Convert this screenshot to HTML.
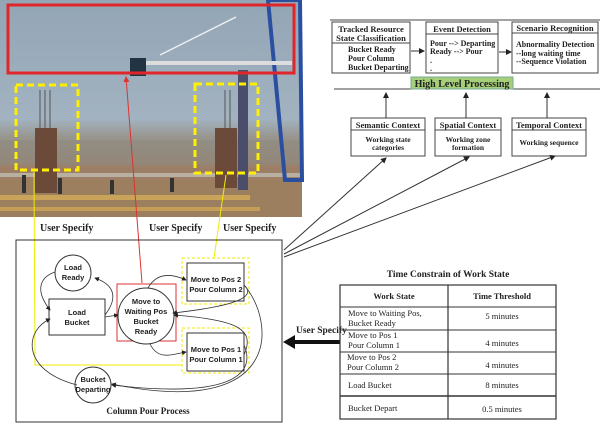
<!DOCTYPE html>
<html><head><meta charset="utf-8"><style>
body{margin:0;background:#fff;width:600px;height:424px;overflow:hidden}
svg text{font-family:"Liberation Serif",serif;font-weight:bold;fill:#222}
svg .s text{font-family:"Liberation Sans",sans-serif}
svg text.n{font-weight:normal}
</style></head><body>
<svg width="600" height="424" viewBox="0 0 600 424" xmlns="http://www.w3.org/2000/svg">
<defs>
<linearGradient id="sky" x1="0" y1="0" x2="0" y2="1">
<stop offset="0" stop-color="#93a6b6"/><stop offset="0.55" stop-color="#a2b2c0"/><stop offset="0.63" stop-color="#98968f"/><stop offset="0.78" stop-color="#9c7e66"/><stop offset="1" stop-color="#a58360"/></linearGradient>
<marker id="a" markerWidth="6" markerHeight="6" refX="5" refY="3" orient="auto"><path d="M0,0 L6,3 L0,6 Z" fill="#222"/></marker>
<marker id="ar" markerWidth="6" markerHeight="6" refX="5" refY="3" orient="auto"><path d="M0,0 L6,3 L0,6 Z" fill="#d33"/></marker>
</defs>
<rect x="0" y="0" width="302" height="217" fill="url(#sky)"/>
<rect x="0" y="140" width="302" height="25" fill="#8e8a80" opacity="0.6"/>
<rect x="0" y="180" width="302" height="37" fill="#9b7f5e"/>
<rect x="0" y="195" width="250" height="5" fill="#c9a35a"/>
<rect x="0" y="207" width="260" height="4" fill="#c59e55"/>
<rect x="0" y="173" width="302" height="4" fill="#b8b0a0"/>
<rect x="35" y="128" width="22" height="65" fill="#6b4a3a"/>
<rect x="215" y="128" width="22" height="60" fill="#6b4a3a"/>
<g stroke="#555" stroke-width="1"><line x1="40" y1="90" x2="40" y2="128"/><line x1="45" y1="90" x2="45" y2="128"/><line x1="50" y1="90" x2="50" y2="128"/><line x1="225" y1="90" x2="225" y2="128"/><line x1="230" y1="90" x2="230" y2="128"/></g>
<rect x="238" y="70" width="10" height="120" fill="#4a4e6a"/>
<path d="M268 0 L300 0 L302 180 L285 180 Z" fill="none" stroke="#2b4fa0" stroke-width="4"/>
<line x1="130" y1="63" x2="292" y2="63" stroke="#ddd" stroke-width="4"/>
<line x1="160" y1="55" x2="236" y2="17" stroke="#eee" stroke-width="1.5"/>
<rect x="130" y="58" width="16" height="18" fill="#234"/>
<g fill="#333"><rect x="22" y="175" width="4" height="18"/><rect x="58" y="178" width="4" height="16"/><rect x="170" y="178" width="4" height="14"/><rect x="110" y="180" width="4" height="14"/></g>
<rect x="8" y="5" width="286" height="68" fill="none" stroke="#e0262a" stroke-width="3"/>
<rect x="16" y="85" width="62" height="85" fill="none" stroke="#ffef00" stroke-width="3" stroke-dasharray="7,4"/>
<rect x="195" y="84" width="63" height="89" fill="none" stroke="#ffef00" stroke-width="3" stroke-dasharray="7,4"/>
<line x1="142" y1="283" x2="126" y2="77" stroke="#d33" stroke-width="1" marker-end="url(#ar)"/>
<polyline points="34,172 35,365 182,365" fill="none" stroke="#ee0" stroke-width="1"/>
<line x1="214" y1="258" x2="226" y2="175" stroke="#ee0" stroke-width="1"/>
<text x="40" y="231" font-size="10">User Specify</text>
<text x="149" y="231" font-size="10">User Specify</text>
<text x="223" y="231" font-size="10">User Specify</text>
<rect x="16" y="240" width="266" height="182" fill="none" stroke="#333" stroke-width="1"/>
<rect x="117" y="284" width="59" height="57" fill="none" stroke="#d33" stroke-width="1"/>
<rect x="182" y="258" width="67" height="46" fill="none" stroke="#ee0" stroke-dasharray="3,2"/>
<rect x="182" y="328" width="67" height="45" fill="none" stroke="#ee0" stroke-dasharray="3,2"/>
<g fill="#fff" stroke="#333">
<circle cx="73" cy="273" r="18"/>
<rect x="49" y="299" width="56" height="36"/>
<circle cx="146" cy="316" r="28"/>
<rect x="187" y="263" width="57" height="38"/>
<rect x="187" y="333" width="57" height="38"/>
<circle cx="93" cy="385" r="18"/>
</g>
<g fill="none" stroke="#333" stroke-width="0.8">
<path d="M55 272 C38 278 36 292 50 310" marker-end="url(#a)"/>
<path d="M105 315 C118 298 115 285 95 278" marker-end="url(#a)"/>
<path d="M105 317 L118 315" marker-end="url(#a)"/>
<path d="M148 288 C158 270 175 275 186 280" marker-end="url(#a)"/>
<path d="M244 285 C255 295 245 305 173 313" marker-end="url(#a)"/>
<path d="M150 344 C158 360 170 355 186 352" marker-end="url(#a)"/>
<path d="M244 355 C255 330 240 320 174 315" marker-end="url(#a)"/>
<path d="M244 345 C255 370 240 400 112 385" marker-end="url(#a)"/>
<path d="M244 285 C275 320 285 420 112 384" marker-end="url(#a)"/>
<path d="M77 385 C20 370 25 330 50 319" marker-end="url(#a)"/>
</g>
<g class="s" font-size="7.5" text-anchor="middle">
<text x="73" y="270">Load</text><text x="73" y="280">Ready</text>
<text x="77" y="315">Load</text><text x="77" y="325">Bucket</text>
<text x="146" y="304">Move to</text><text x="146" y="314">Waiting Pos</text><text x="146" y="324">Bucket</text><text x="146" y="334">Ready</text>
<text x="216" y="282">Move to Pos 2</text><text x="216" y="292">Pour Column 2</text>
<text x="216" y="352">Move to Pos 1</text><text x="216" y="362">Pour Column 1</text>
<text x="93" y="382">Bucket</text><text x="93" y="392">Departing</text>
</g>
<text x="148" y="414" font-size="9" text-anchor="middle">Column Pour Process</text>
<line x1="330" y1="20" x2="600" y2="20" stroke="#444"/>
<line x1="334" y1="89" x2="600" y2="89" stroke="#444"/>
<g fill="#fff" stroke="#444">
<rect x="332" y="22" width="78" height="51"/><line x1="332" y1="43" x2="410" y2="43"/>
<rect x="426" y="22" width="72" height="51"/><line x1="426" y1="34" x2="498" y2="34"/>
<rect x="512" y="22" width="86" height="51"/><line x1="512" y1="33" x2="598" y2="33"/>
<rect x="351" y="118" width="74" height="38"/><line x1="351" y1="130" x2="425" y2="130"/>
<rect x="435" y="118" width="66" height="38"/><line x1="435" y1="130" x2="501" y2="130"/>
<rect x="512" y="118" width="74" height="38"/><line x1="512" y1="130" x2="586" y2="130"/>
</g>
<rect x="411" y="77" width="102" height="12" fill="#a6cf7a" stroke="#7a9"/>
<g stroke="#333" stroke-width="1" fill="none">
<line x1="411" y1="51" x2="424" y2="51" marker-end="url(#a)"/>
<line x1="499" y1="52" x2="511" y2="52" marker-end="url(#a)"/>
<line x1="386" y1="118" x2="386" y2="93" marker-end="url(#a)"/>
<line x1="466" y1="118" x2="466" y2="93" marker-end="url(#a)"/>
<line x1="547" y1="118" x2="547" y2="93" marker-end="url(#a)"/>
<line x1="284" y1="250" x2="386" y2="158" marker-end="url(#a)"/>
<line x1="284" y1="254" x2="469" y2="157" marker-end="url(#a)"/>
<line x1="284" y1="257" x2="555" y2="156" marker-end="url(#a)"/>
</g>
<g font-size="8.5">
<text x="371" y="32" text-anchor="middle">Tracked Resource</text>
<text x="371" y="41" text-anchor="middle">State Classification</text>
<text x="348" y="52" font-size="8">Bucket Ready</text>
<text x="348" y="61" font-size="8">Pour Column</text>
<text x="348" y="70" font-size="8">Bucket Departing</text>
<text x="462" y="32" text-anchor="middle">Event Detection</text>
<text x="430" y="46" font-size="8">Pour --&gt; Departing</text>
<text x="430" y="54" font-size="8">Ready --&gt; Pour</text>
<text x="430" y="63" font-size="8">.</text><text x="430" y="71" font-size="8">.</text>
<text x="555" y="31" text-anchor="middle">Scenario Recognition</text>
<text x="516" y="47" font-size="8">Abnormality Detection</text>
<text x="516" y="56" font-size="8">--long waiting time</text>
<text x="516" y="64" font-size="8">--Sequence Violation</text>
<text x="462" y="87" text-anchor="middle" font-size="10" fill="#1a3a10">High Level Processing</text>
<text x="388" y="128" text-anchor="middle">Semantic Context</text>
<text x="468" y="128" text-anchor="middle">Spatial Context</text>
<text x="549" y="128" text-anchor="middle">Temporal Context</text>
<text x="388" y="142" text-anchor="middle" font-size="7.5">Working state</text>
<text x="388" y="150" text-anchor="middle" font-size="7.5">categories</text>
<text x="468" y="142" text-anchor="middle" font-size="7.5">Working zone</text>
<text x="468" y="150" text-anchor="middle" font-size="7.5">formation</text>
<text x="549" y="145" text-anchor="middle" font-size="7.5">Working sequence</text>
</g>
<text x="448" y="277" font-size="9.5" text-anchor="middle">Time Constrain of Work State</text>
<text x="296" y="333" font-size="9.5">User Specify</text>
<line x1="340" y1="342" x2="292" y2="342" stroke="#111" stroke-width="4"/>
<path d="M283 342 L295 335 L295 349 Z" fill="#111"/>
<g stroke="#333" fill="none">
<rect x="340" y="285" width="216" height="134" stroke-width="1.2"/>
<line x1="448" y1="285" x2="448" y2="419" stroke-width="1.2"/>
<line x1="340" y1="307" x2="556" y2="307"/>
<line x1="340" y1="330" x2="556" y2="330"/>
<line x1="340" y1="352" x2="556" y2="352"/>
<line x1="340" y1="374" x2="556" y2="374"/>
<line x1="340" y1="396" x2="556" y2="396" stroke-width="1.5"/>
</g>
<text x="394" y="299" font-size="8.5" text-anchor="middle">Work State</text>
<text x="502" y="299" font-size="8.5" text-anchor="middle">Time Threshold</text>
<g font-size="8.5">
<text class="n" x="348" y="316">Move to Waiting Pos,</text><text class="n" x="348" y="326">Bucket Ready</text>
<text class="n" x="348" y="338">Move to Pos 1</text><text class="n" x="348" y="348">Pour Column 1</text>
<text class="n" x="347" y="360">Move to Pos 2</text><text class="n" x="347" y="370">Pour Column 2</text>
<text class="n" x="348" y="388">Load Bucket</text>
<text class="n" x="348" y="411">Bucket Depart</text>
<text class="n" x="502" y="319" text-anchor="middle">5 minutes</text>
<text class="n" x="502" y="346" text-anchor="middle">4 minutes</text>
<text class="n" x="502" y="368" text-anchor="middle">4 minutes</text>
<text class="n" x="502" y="388" text-anchor="middle">8 minutes</text>
<text class="n" x="502" y="412" text-anchor="middle">0.5 minutes</text>
</g>
</svg>
</body></html>
